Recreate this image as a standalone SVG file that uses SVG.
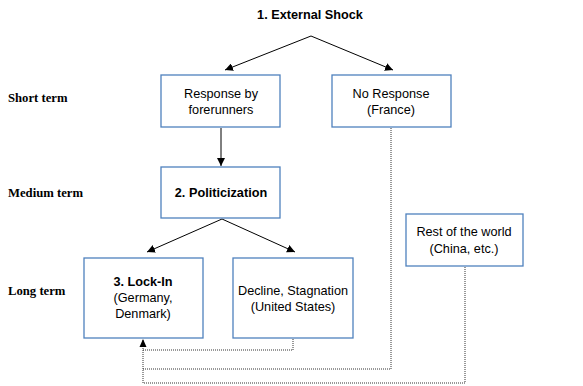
<svg xmlns="http://www.w3.org/2000/svg" width="583" height="386" viewBox="0 0 583 386">
<style>
.box{fill:#fff;stroke:#4f81bd;stroke-width:1.3}
.t{font-family:"Liberation Sans",Arial,sans-serif;font-size:12.7px;fill:#000;text-anchor:middle}
.b{font-weight:bold}
.lab{font-family:"Liberation Serif","Times New Roman",serif;font-size:12.7px;font-weight:bold;fill:#000}
.a{fill:none;stroke:#000;stroke-width:1}
.d{fill:none;stroke:#333;stroke-width:1;stroke-dasharray:1,1}
</style>
<defs>
<marker id="ah" viewBox="0 0 10 10" refX="10" refY="5" markerWidth="8" markerHeight="8" markerUnits="userSpaceOnUse" orient="auto">
<path d="M0,0 L10,5 L0,10 z" fill="#000"/>
</marker>
</defs>
<text class="lab" x="8" y="102">Short term</text>
<text class="lab" x="8" y="197">Medium term</text>
<text class="lab" x="8" y="295">Long term</text>
<g id="shock"><text class="t b" x="310" y="19">1. External Shock</text></g>
<g id="connectors">
<path class="a" d="M311,36 L225,70" marker-end="url(#ah)"/>
<path class="a" d="M311,36 L393,70" marker-end="url(#ah)"/>
<path class="a" d="M221,128 L221,166" marker-end="url(#ah)"/>
<path class="a" d="M222,219 L147,252" marker-end="url(#ah)"/>
<path class="a" d="M222,219 L295,252" marker-end="url(#ah)"/>
<path class="d" d="M293,339 L293,350 L143,350"/>
<path class="d" d="M391,128 L391,369 L143,369"/>
<path class="d" d="M465,267 L465,383 L143,383 L143,340"/>
<path d="M143,339 L139.5,347 L146.5,347 z" fill="#000"/>
</g>
<g id="forerunners"><rect class="box" x="161" y="75" width="119" height="52"/>
<text class="t" x="221" y="98">Response by</text><text class="t" x="221" y="114">forerunners</text></g>
<g id="france"><rect class="box" x="332" y="75" width="119" height="52"/>
<text class="t" x="391" y="98">No Response</text><text class="t" x="391" y="114">(France)</text></g>
<g id="politicization"><rect class="box" x="161" y="167" width="119" height="51"/>
<text class="t b" x="221" y="197">2. Politicization</text></g>
<g id="lockin"><rect class="box" x="84" y="258" width="119" height="80"/>
<text class="t b" x="143" y="286">3. Lock-In</text><text class="t" x="143" y="302">(Germany,</text><text class="t" x="143" y="318">Denmark)</text></g>
<g id="decline"><rect class="box" x="233" y="258" width="120" height="80"/>
<text class="t" x="293" y="295">Decline, Stagnation</text><text class="t" x="293" y="311">(United States)</text></g>
<g id="rest"><rect class="box" x="406" y="214" width="117" height="52"/>
<text class="t" x="464" y="236">Rest of the world</text><text class="t" x="464" y="253">(China, etc.)</text></g>
</svg>
